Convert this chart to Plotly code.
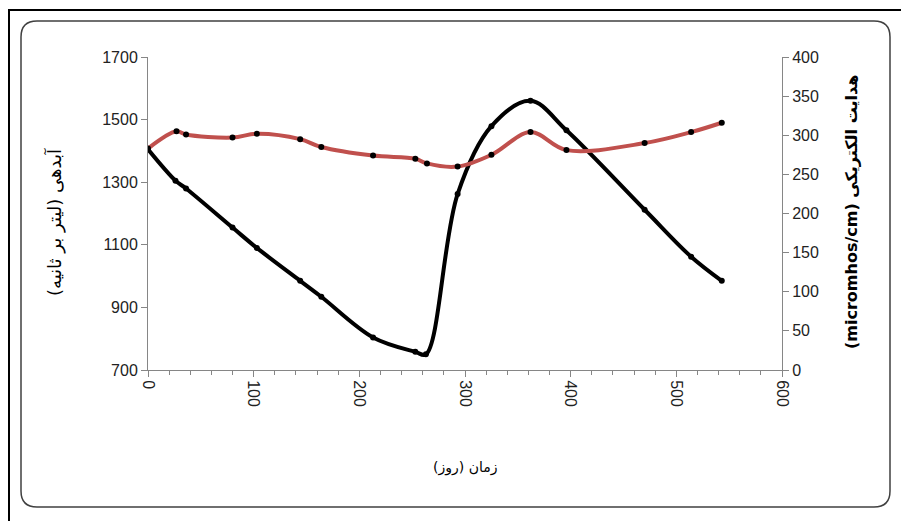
import plotly.graph_objects as go

# ---- data ----
days_q = [0, 26, 36, 80, 103, 144, 164, 213, 253, 263, 293, 325, 362, 396, 470, 514, 543]
discharge = [1405, 1305, 1280, 1155, 1090, 985, 934, 804, 758, 750, 1262, 1479, 1560, 1466, 1212, 1062, 985]

days_ec = [0, 27, 36, 80, 103, 144, 164, 213, 253, 264, 293, 325, 362, 396, 470, 514, 543]
ec = [283, 305, 301, 297, 302, 295, 285, 274, 270, 264, 260, 275, 304, 281, 290, 304, 316]

x_ticks = [0, 100, 200, 300, 400, 500, 600]
left_ticks = [700, 900, 1100, 1300, 1500, 1700]
right_ticks = [0, 50, 100, 150, 200, 250, 300, 350, 400]

x_title = "زمان (روز)"
left_title = "آبدهی (لیتر بر ثانیه)\u200f"
right_title = "<b>(micromhos/cm) هدایت الکتریکی</b>"

# ---- layout geometry (page has an 8px body margin) ----
OFF = 8
W, H = 901, 513
L, R, T, B = 148 - OFF, 782 - OFF, 57 - OFF, 370 - OFF
pw, ph = R - L, B - T


def px(x):
    return (x - OFF - L) / pw


def py(y):
    return (B - (y - OFF)) / ph


def rounded_rect(x1, y1, x2, y2, r):
    rx = r / pw
    ry = r / ph
    a, b, c, d = px(x1), py(y1), px(x2), py(y2)
    return (f"M {a+rx},{b} L {c-rx},{b} Q {c},{b} {c},{b-ry} "
            f"L {c},{d+ry} Q {c},{d} {c-rx},{d} "
            f"L {a+rx},{d} Q {a},{d} {a},{d+ry} "
            f"L {a},{b-ry} Q {a},{b} {a+rx},{b} Z")


fig = go.Figure()

fig.add_trace(go.Scatter(
    x=days_q, y=discharge, mode="lines+markers",
    line=dict(color="black", width=4, shape="spline", smoothing=1),
    marker=dict(color="black", size=6),
    yaxis="y", showlegend=False,
))
fig.add_trace(go.Scatter(
    x=days_ec, y=ec, mode="lines+markers",
    line=dict(color="#C0504D", width=4, shape="spline", smoothing=1),
    marker=dict(color="black", size=6),
    yaxis="y2", showlegend=False,
))

axis_col = "#868686"
tick_font = dict(family="Liberation Sans", size=16, color="#222222")

fig.update_layout(
    width=W, height=H,
    margin=dict(l=L, r=W - R, t=T, b=H - B, pad=0),
    paper_bgcolor="white", plot_bgcolor="white",
    xaxis=dict(
        range=[0, 600], tickvals=x_ticks, tickangle=90,
        showgrid=False, zeroline=False, showline=True, linecolor=axis_col, linewidth=1,
        ticks="outside", ticklen=6, tickcolor=axis_col,
        minor=dict(dtick=20, ticks="outside", ticklen=4, tickcolor=axis_col),
        tickfont=tick_font,
    ),
    yaxis=dict(
        range=[700, 1700], tickvals=left_ticks,
        showgrid=False, zeroline=False, showline=True, linecolor=axis_col, linewidth=1,
        ticks="outside", ticklen=6, tickcolor=axis_col, tickfont=tick_font,
    ),
    yaxis2=dict(
        range=[0, 400], tickvals=right_ticks, overlaying="y", side="right",
        showgrid=False, zeroline=False, showline=True, linecolor=axis_col, linewidth=1,
        ticks="outside", ticklen=6, tickcolor=axis_col, tickfont=tick_font,
    ),
    shapes=[
        dict(type="rect", xref="paper", yref="paper",
             x0=px(9), y0=py(560), x1=px(950), y1=py(10),
             line=dict(color="black", width=2), fillcolor="rgba(0,0,0,0)", layer="below"),
        dict(type="path", xref="paper", yref="paper",
             path=rounded_rect(21, 21, 890, 507, 16),
             line=dict(color="#404040", width=1.5), fillcolor="rgba(0,0,0,0)", layer="below"),
    ],
    annotations=[
        dict(text=x_title, xref="paper", yref="paper", x=px(465), y=py(467),
             showarrow=False, font=dict(family="DejaVu Sans", size=14, color="black"),
             xanchor="center", yanchor="middle"),
        dict(text=left_title, xref="paper", yref="paper", x=px(54), y=py(222),
             showarrow=False, textangle=-90,
             font=dict(family="DejaVu Sans", size=18, color="black"),
             xanchor="center", yanchor="middle"),
        dict(text=right_title, xref="paper", yref="paper", x=px(851), y=py(212),
             showarrow=False, textangle=-90,
             font=dict(family="DejaVu Sans", size=16, color="black"),
             xanchor="center", yanchor="middle"),
    ],
)

fig.write_html("out.html")
